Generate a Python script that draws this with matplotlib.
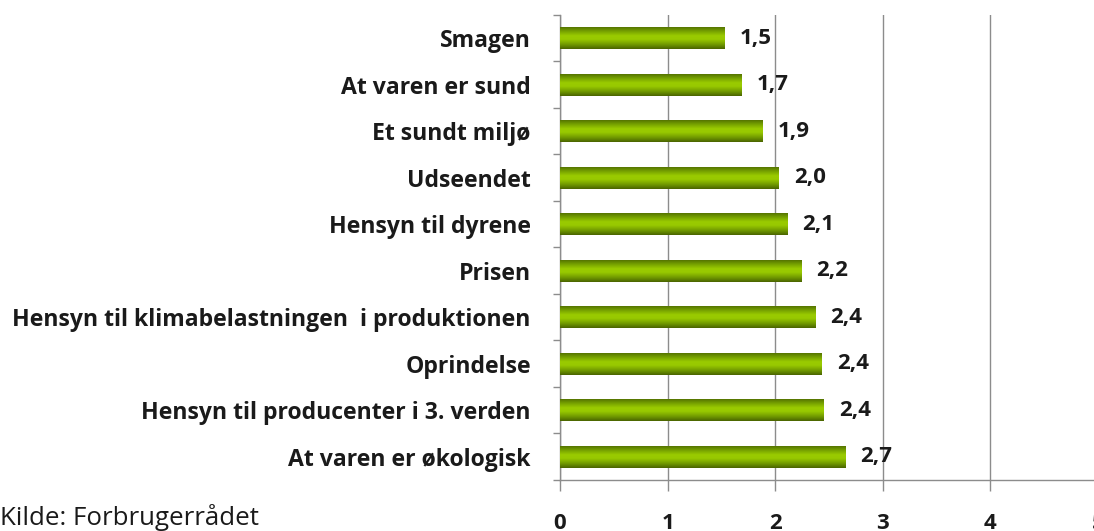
import numpy as np
import matplotlib
matplotlib.use("Agg")
import matplotlib.pyplot as plt
from matplotlib.colors import LinearSegmentedColormap

categories = [
    "Smagen",
    "At varen er sund",
    "Et sundt miljø",
    "Udseendet",
    "Hensyn til dyrene",
    "Prisen",
    "Hensyn til klimabelastningen  i produktionen",
    "Oprindelse",
    "Hensyn til producenter i 3. verden",
    "At varen er økologisk",
]
values = [1.53, 1.69, 1.88, 2.03, 2.11, 2.24, 2.37, 2.43, 2.45, 2.65]
value_labels = ["1,5", "1,7", "1,9", "2,0", "2,1", "2,2", "2,4", "2,4", "2,4", "2,7"]
x_ticks = [0, 1, 2, 3, 4, 5]
source_text = "Kilde: Forbrugerrådet"

FONT = ["Open Sans", "DejaVu Sans"]
plt.rcParams["font.family"] = FONT

W, H = 1094, 531
fig = plt.figure(figsize=(W / 100, H / 100), dpi=100)
ax = fig.add_axes([560 / W, 1 - 480 / H, 538 / W, (480 - 15) / H])

n = len(categories)
ypos = np.arange(n)
bars = ax.barh(ypos, values, height=0.48, color="#8fbf00", edgecolor="none", zorder=3)

cmap = LinearSegmentedColormap.from_list(
    "cyl",
    [(0.0, "#4e6a00"), (0.18, "#6f9800"), (0.42, "#9acb00"),
     (0.58, "#98c900"), (0.82, "#6e9600"), (1.0, "#4a6400")],
)
grad = np.linspace(0, 1, 64).reshape(-1, 1)
for b in bars:
    x0, y0 = b.get_x(), b.get_y()
    w, h = b.get_width(), b.get_height()
    im = ax.imshow(grad, cmap=cmap, aspect="auto", interpolation="bilinear",
                   extent=[x0, x0 + w, y0 + h, y0], zorder=4)
    im.set_clip_path(b)

ax.set_xlim(0, 5)
ax.set_ylim(n - 0.5, -0.5)

# value labels
for y, v, lab in zip(ypos, values, value_labels):
    ax.annotate(lab, (v, y), xytext=(11, 0), textcoords="offset points",
                ha="left", va="center", fontsize=16, fontweight="bold",
                color="#1a1a1a", zorder=5)

# gridlines
ax.set_xticks(x_ticks)
ax.set_xticklabels([str(t) for t in x_ticks], fontsize=16, fontweight="bold")
ax.xaxis.grid(True, color="#8c8c8c", linewidth=1.0, zorder=0)
ax.set_axisbelow(True)

# y-axis with ticks at category boundaries
ax.set_yticks(ypos)
ax.set_yticklabels(categories, fontsize=16.6, fontweight="bold", color="#1a1a1a")
ax.tick_params(axis="y", length=0, pad=21)
ax.set_yticks(np.arange(-0.5, n, 1.0), minor=True)
ax.tick_params(axis="y", which="minor", length=5, color="#8c8c8c", width=1)
ax.tick_params(axis="x", length=8, color="#8c8c8c", width=1, pad=16, labelcolor="#1a1a1a")

for s in ["top", "right"]:
    ax.spines[s].set_visible(False)
for s in ["left", "bottom"]:
    ax.spines[s].set_color("#8c8c8c")
    ax.spines[s].set_linewidth(1.0)

fig.text(0 / W, 1 - 525 / H, source_text, fontsize=18.6, ha="left", va="baseline",
         color="#1a1a1a")

fig.savefig("out.png", dpi=100)
